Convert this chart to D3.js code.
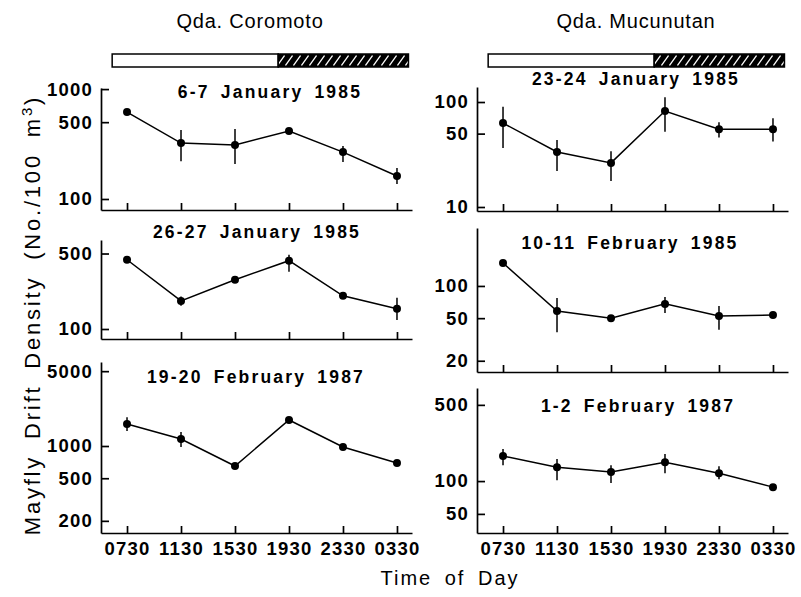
<!DOCTYPE html>
<html lang="en">
<head>
<meta charset="UTF-8" />
<title>Mayfly Drift Density</title>
<script src="https://d3js.org/d3.v7.min.js"></script>
<style>
  body { margin: 0; background: #fff; }
  svg { display: block; font-family: "Liberation Sans", Arial, sans-serif; }
</style>
</head>
<body>
<svg id="canvas"></svg>
<script>
  let width = 801;
  let height = 597;

  // sampling times, and their clock hours (0330 is next morning)
  let times = ["0730", "1130", "1530", "1930", "2330", "0330"];
  let hours = [7.5, 11.5, 15.5, 19.5, 23.5, 27.5];
  let daySpan = [6.4, 18.7];
  let nightSpan = [18.7, 28.35];

  let sites = ["Qda. Coromoto", "Qda. Mucunutan"];

  // Qda. Coromoto
  let cor1Title = "6-7 January 1985";
  let cor1Mean = [618, 323, 310, 415, 267, 162];
  let cor1Lo = [null, 221, 208, null, 217, 137];
  let cor1Hi = [null, 424, 433, null, 303, 191];
  let cor1Ticks = [100, 500, 1000];
  let cor1Domain = [79.4, 1023];

  let cor2Title = "26-27 January 1985";
  let cor2Mean = [438, 182, 286, 429, 203, 154];
  let cor2Lo = [null, 164, null, 339, null, 121];
  let cor2Hi = [null, 200, null, 488, null, 195];
  let cor2Ticks = [100, 500];
  let cor2Domain = [80.8, 667];

  let cor3Title = "19-20 February 1987";
  let cor3Mean = [1606, 1162, 650, 1750, 980, 694];
  let cor3Lo = [1380, 980, null, null, 930, null];
  let cor3Hi = [1860, 1350, null, null, 1040, null];
  let cor3Ticks = [200, 500, 1000, 5000];
  let cor3Domain = [154, 6090];

  // Qda. Mucunutan
  let muc1Title = "23-24 January 1985";
  let muc1Mean = [63, 33.4, 26.3, 82, 55, 55];
  let muc1Lo = [36.5, 22, 17.7, 52, 46, 42];
  let muc1Hi = [90, 43.5, 34, 111, 64, 70];
  let muc1Ticks = [10, 50, 100];
  let muc1Domain = [9.16, 139];

  let muc2Title = "10-11 February 1985";
  let muc2Mean = [164, 58.4, 50, 68, 52.5, 53.5];
  let muc2Lo = [null, 37, null, 56, 39, null];
  let muc2Hi = [null, 77, null, 79, 65, null];
  let muc2Ticks = [20, 50, 100];
  let muc2Domain = [15.7, 348];

  let muc3Title = "1-2 February 1987";
  let muc3Mean = [170, 134, 121, 149, 118, 88];
  let muc3Lo = [140, 102, 96, 118, 104, null];
  let muc3Hi = [197, 159, 140, 177, 137, null];
  let muc3Ticks = [50, 100, 500];
  let muc3Domain = [33.4, 714];

  let colX = [101, 477];
  let headX = [250, 636];
  let plotW = 311;

  let panels = [
    { title: cor1Title, mean: cor1Mean, lo: cor1Lo, hi: cor1Hi, ticks: cor1Ticks, domain: cor1Domain, col: 0, top: 88, bottom: 210, tx: 270, ty: 98, last: false },
    { title: cor2Title, mean: cor2Mean, lo: cor2Lo, hi: cor2Hi, ticks: cor2Ticks, domain: cor2Domain, col: 0, top: 240, bottom: 339, tx: 257, ty: 238, last: false },
    { title: cor3Title, mean: cor3Mean, lo: cor3Lo, hi: cor3Hi, ticks: cor3Ticks, domain: cor3Domain, col: 0, top: 362, bottom: 533, tx: 256, ty: 383, last: true },
    { title: muc1Title, mean: muc1Mean, lo: muc1Lo, hi: muc1Hi, ticks: muc1Ticks, domain: muc1Domain, col: 1, top: 87, bottom: 211, tx: 636, ty: 85, last: false },
    { title: muc2Title, mean: muc2Mean, lo: muc2Lo, hi: muc2Hi, ticks: muc2Ticks, domain: muc2Domain, col: 1, top: 228, bottom: 372, tx: 630, ty: 249, last: false },
    { title: muc3Title, mean: muc3Mean, lo: muc3Lo, hi: muc3Hi, ticks: muc3Ticks, domain: muc3Domain, col: 1, top: 388, bottom: 533, tx: 638, ty: 412, last: true }
  ];

  let svg = d3.select("#canvas").attr("width", width).attr("height", height);

  // hatch for the night part of the bars
  let pat = svg.append("defs").append("pattern")
    .attr("id", "hatch")
    .attr("patternUnits", "userSpaceOnUse")
    .attr("x", 0).attr("y", 54)
    .attr("width", 8).attr("height", 13);
  pat.append("rect").attr("width", 8).attr("height", 13).attr("fill", "#000");
  pat.append("line")
    .attr("x1", 0.5).attr("y1", 11.5).attr("x2", 7.5).attr("y2", 1.5)
    .attr("stroke", "#fff").attr("stroke-width", 1.3);

  let xScale = d3.scalePoint()
    .domain(times)
    .range([0, plotW])
    .padding(0.38)
    .align(0.634);

  let hourScale = d3.scaleLinear()
    .domain([hours[0], hours[hours.length - 1]])
    .range([xScale(times[0]), xScale(times[times.length - 1])]);

  // site headers and day / night bars
  colX.forEach((x0, i) => {
    svg.append("text")
      .attr("x", headX[i])
      .attr("y", 28)
      .attr("text-anchor", "middle")
      .attr("font-size", 20)
      .attr("letter-spacing", 0.8)
      .text(sites[i]);
    let g = svg.append("g").attr("transform", "translate(" + x0 + ",0)");
    g.append("rect")
      .attr("x", hourScale(daySpan[0])).attr("y", 54)
      .attr("width", hourScale(daySpan[1]) - hourScale(daySpan[0])).attr("height", 13)
      .attr("fill", "#fff").attr("stroke", "#000").attr("stroke-width", 1.5);
    g.append("rect")
      .attr("x", hourScale(nightSpan[0])).attr("y", 54)
      .attr("width", hourScale(nightSpan[1]) - hourScale(nightSpan[0])).attr("height", 13)
      .attr("fill", "url(#hatch)").attr("stroke", "#000").attr("stroke-width", 1.5);
  });

  panels.forEach((p) => {
    let x0 = colX[p.col];
    let g = svg.append("g").attr("transform", "translate(" + x0 + ",0)");

    let yScale = d3.scaleLog().domain(p.domain).range([p.bottom, p.top]);

    let yAxis = d3.axisLeft(yScale)
      .tickValues(p.ticks)
      .tickFormat(d3.format("d"))
      .tickSizeInner(-8)
      .tickSizeOuter(0)
      .tickPadding(8);

    let xAxis = d3.axisBottom(xScale)
      .tickSizeInner(-7)
      .tickSizeOuter(0)
      .tickPadding(9)
      .tickFormat(p.last ? (d) => d : () => "");

    let ya = g.append("g").call(yAxis);
    let xa = g.append("g").attr("transform", "translate(0," + p.bottom + ")").call(xAxis);

    [ya, xa].forEach((a) => {
      a.attr("font-family", null)
        .attr("font-size", 18.5)
        .attr("font-weight", "bold");
      a.selectAll("path, line").attr("stroke", "#000").attr("stroke-width", 1.7);
      a.selectAll("text").attr("fill", "#000").attr("letter-spacing", 1.2);
    });

    let pts = p.mean.map((v, i) => ({ t: times[i], v: v, lo: p.lo[i], hi: p.hi[i] }));

    g.selectAll(".err")
      .data(pts.filter((d) => d.lo != null))
      .enter()
      .append("line")
      .attr("x1", (d) => xScale(d.t))
      .attr("x2", (d) => xScale(d.t))
      .attr("y1", (d) => yScale(d.lo))
      .attr("y2", (d) => yScale(d.hi))
      .attr("stroke", "#000")
      .attr("stroke-width", 1.5);

    let line = d3.line()
      .x((d) => xScale(d.t))
      .y((d) => yScale(d.v));

    g.append("path")
      .datum(pts)
      .attr("d", line)
      .attr("fill", "none")
      .attr("stroke", "#000")
      .attr("stroke-width", 1.5);

    g.selectAll(".dot")
      .data(pts)
      .enter()
      .append("circle")
      .attr("cx", (d) => xScale(d.t))
      .attr("cy", (d) => yScale(d.v))
      .attr("r", 4)
      .attr("fill", "#000");

    svg.append("text")
      .attr("x", p.tx)
      .attr("y", p.ty)
      .attr("text-anchor", "middle")
      .attr("font-size", 17.5)
      .attr("font-weight", "bold")
      .attr("letter-spacing", 2.2)
      .attr("word-spacing", 4)
      .text(p.title);
  });

  // axis titles
  let yTitle = svg.append("text")
    .attr("transform", "translate(40,315) rotate(-90)")
    .attr("text-anchor", "middle")
    .attr("font-size", 22)
    .attr("letter-spacing", 2.8)
    .attr("word-spacing", 7);
  yTitle.append("tspan").text("Mayfly Drift Density (No./100 m");
  yTitle.append("tspan").attr("font-size", 15).attr("dy", -8).text("3");
  yTitle.append("tspan").attr("dy", 8).text(")");

  svg.append("text")
    .attr("x", 450)
    .attr("y", 585)
    .attr("text-anchor", "middle")
    .attr("font-size", 20)
    .attr("letter-spacing", 2)
    .attr("word-spacing", 5)
    .text("Time of Day");
</script>
</body>
</html>
